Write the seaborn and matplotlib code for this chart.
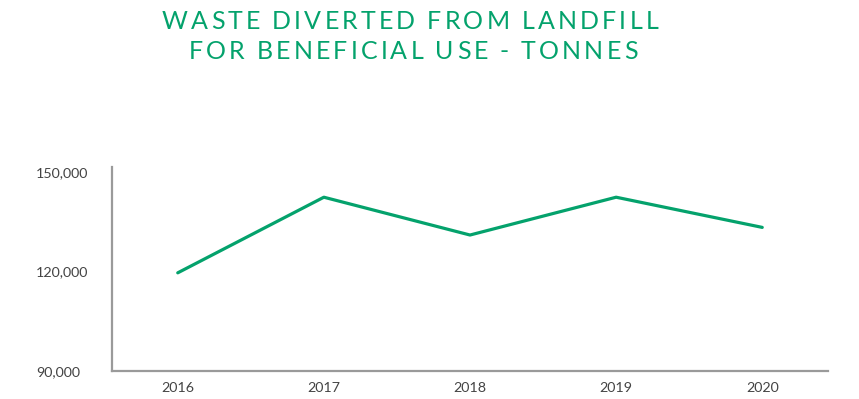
import matplotlib
matplotlib.use("Agg")
import matplotlib.pyplot as plt
import seaborn as sns
import pandas as pd
from matplotlib.ticker import FuncFormatter

years = ["2016", "2017", "2018", "2019", "2020"]
tonnes = [119600, 142400, 131000, 142400, 133300]
yticks = [90000, 120000, 150000]
title_lines = ["WASTE DIVERTED FROM LANDFILL", "FOR BENEFICIAL USE - TONNES"]

GREEN = "#04a26c"
GRAY_TXT = "#444444"

sns.set_theme(style="white")
plt.rcParams["font.family"] = ["Lato", "DejaVu Sans"]

df = pd.DataFrame({"year": years, "tonnes": tonnes})

fig = plt.figure(figsize=(8.59, 3.99), dpi=100)
ax = fig.add_axes([112 / 859, 1 - 371 / 399, (828 - 112) / 859, (371 - 166.7) / 399])

sns.lineplot(data=df, x="year", y="tonnes", ax=ax, color=GREEN, linewidth=2.3,
             sort=False)

ax.set_xlim(-0.45, 4.45)
ax.set_ylim(90000, 151600)
ax.set_yticks(yticks)
ax.yaxis.set_major_formatter(FuncFormatter(lambda v, p: f"{int(v):,}"))
ax.set_xlabel("")
ax.set_ylabel("")

for s in ["top", "right"]:
    ax.spines[s].set_visible(False)
for s in ["left", "bottom"]:
    ax.spines[s].set_color("#9a9a9a")
    ax.spines[s].set_linewidth(1.6)

ax.tick_params(axis="both", length=0, labelsize=10.3, labelcolor=GRAY_TXT)
ax.tick_params(axis="y", pad=54.7)
ax.tick_params(axis="x", pad=8)
for lbl in ax.get_yticklabels():
    lbl.set_horizontalalignment("left")

def tracked_text(fig, s, xc, yc, size, color, tracking):
    # draw text centred at (xc, yc) pixels with extra letter spacing (pixels)
    renderer = fig.canvas.get_renderer()
    widths = []
    for ch in s:
        t = fig.text(0, 0, ch if ch != " " else "\u00a0", fontsize=size)
        bb = t.get_window_extent(renderer)
        widths.append(bb.width if ch != " " else size * 100 / 72 * 0.22)
        t.remove()
    total = sum(widths) + tracking * (len(s) - 1)
    x = xc - total / 2
    for ch, w in zip(s, widths):
        fig.text(x / 859, 1 - yc / 399, ch, fontsize=size, color=color,
                 ha="left", va="center")
        x += w + tracking

tracked_text(fig, title_lines[0], 410, 21.7, 18, GREEN, 3.2)
tracked_text(fig, title_lines[1], 413, 51.7, 18, GREEN, 3.2)

fig.savefig("out.png", dpi=100)
